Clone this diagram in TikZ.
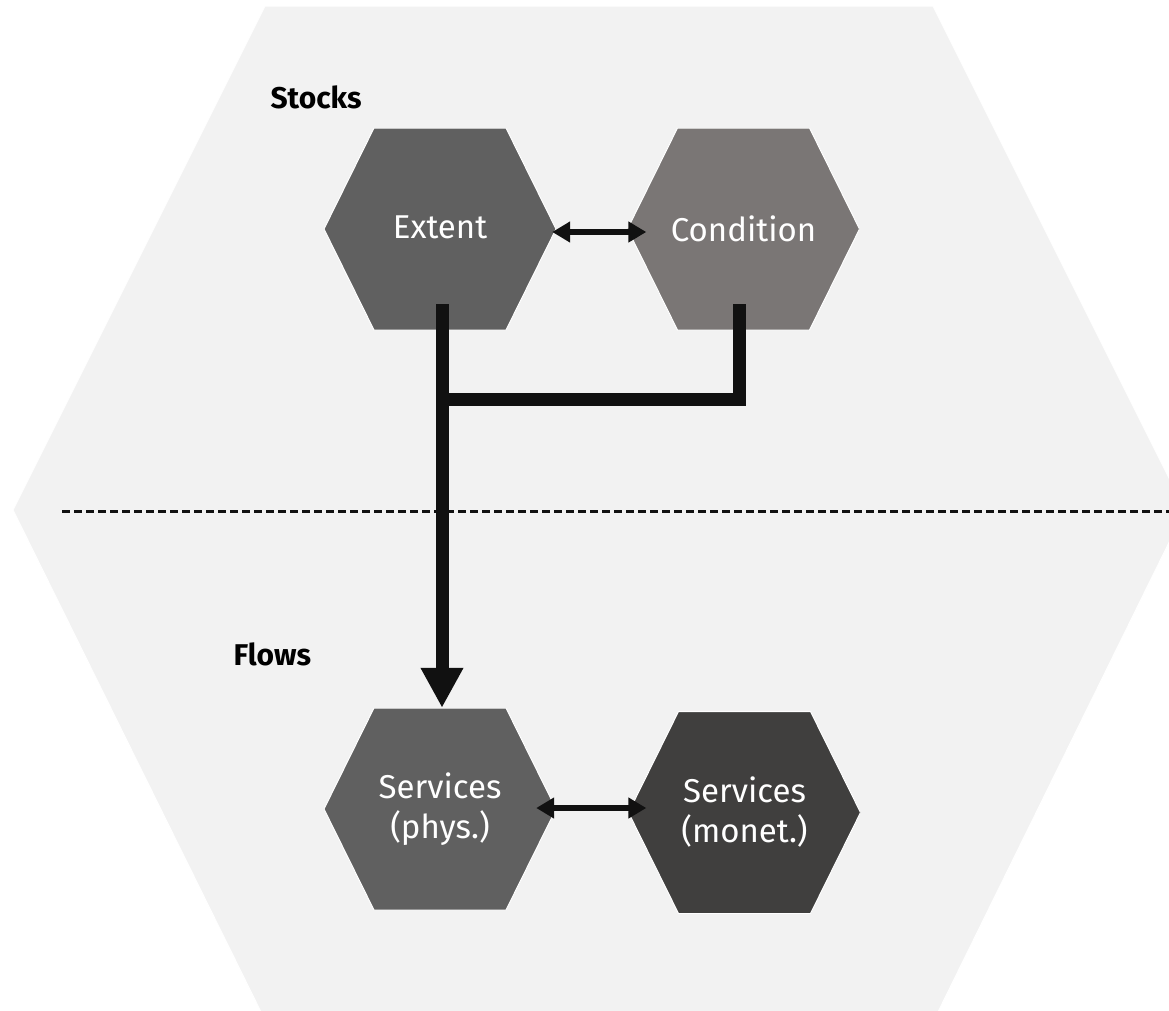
\documentclass[tikz,border=0pt]{standalone}
\usepackage{fontspec}
\setmainfont{Fira Sans}
\usetikzlibrary{calc,arrows.meta}
\definecolor{bgc}{HTML}{F2F2F2}
\definecolor{extc}{HTML}{606060}
\definecolor{condc}{HTML}{7A7675}
\definecolor{monc}{HTML}{403F3E}
\definecolor{linec}{HTML}{111111}
\tikzset{
  hexnode/.style={minimum width=232pt, minimum height=202pt, inner sep=0pt,
    text=white, font=\fontsize{33}{40}\selectfont, align=center,
    path picture={\fill[#1, draw=white, line width=1pt]
      (path picture bounding box.west) --
      ($(path picture bounding box.north west)+(50,0)$) --
      ($(path picture bounding box.north east)+(-50,0)$) --
      (path picture bounding box.east) --
      ($(path picture bounding box.south east)+(-50,0)$) --
      ($(path picture bounding box.south west)+(50,0)$) -- cycle;}},
  thick conn/.style={draw=linec, line width=13pt},
  dbl arrow/.style={draw=linec, line width=6pt,
    {Triangle[length=18pt,width=20pt]}-{Triangle[length=18pt,width=20pt]}},
  section label/.style={anchor=base west, font=\fontsize{30}{36}\selectfont\bfseries}
}
\begin{document}
\begin{tikzpicture}[x=1pt,y=-1pt]
\useasboundingbox (0,0) rectangle (1169,1010);
% background hexagon
\fill[bgc, draw=white, line width=1pt] (265,6) -- (933,6) -- (1185,510) -- (937,1014) -- (262,1014) -- (13,510) -- cycle;
% dashed separator
\coordinate (dl) at (62,511);
\coordinate (dr) at (1169,511);
\draw[draw=linec, line width=3pt, dash pattern=on 8pt off 4pt] (dl) -- (dr);
% labels
\node[section label] (stocks) at (267,108) {Stocks};
\node[section label] (flows) at (230,665) {Flows};
% hexagons
\node[hexnode=extc] (ext) at (440,229) {\raisebox{3pt}{Extent}};
\node[hexnode=condc] (cond) at (743.5,229) {Condition};
\node[hexnode=extc] (phys) at (440,809) {Services\\(phys.)};
\node[hexnode=monc] (monet) at (744.5,812.5) {Services\\(monet.)};
% connectors
\draw[thick conn] ($(cond.south)+(-4.5,-26)$) |- ($(ext.south)+(0,69)$);
\draw[thick conn, -{Triangle[length=40pt,width=40pt]}] ($(ext.south)+(2,-26)$) -- ($(phys.north)+(2,0)$);
\draw[dbl arrow] ($(ext.east)+(-4,3)$) -- ($(cond.west)+(19,3)$);
\draw[dbl arrow] ($(phys.east)+(-20,-1)$) -- ($(monet.west)+(18,-4.5)$);
\end{tikzpicture}
\end{document}
